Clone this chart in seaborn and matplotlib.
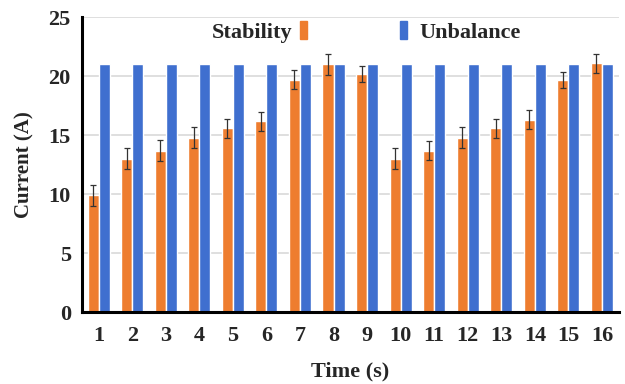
import numpy as np
import pandas as pd
import matplotlib
matplotlib.use('Agg')
import matplotlib.pyplot as plt
from matplotlib.patches import Patch
from matplotlib.ticker import MultipleLocator, FixedLocator
import seaborn as sns

# data
times = [str(i) for i in range(1, 17)]
stability = [9.9, 13.0, 13.7, 14.8, 15.6, 16.2, 19.7, 21.0, 20.2,
             13.0, 13.7, 14.8, 15.6, 16.3, 19.7, 21.1]
stability_err = [0.9, 0.9, 0.9, 0.9, 0.8, 0.8, 0.8, 0.9, 0.7,
                 0.9, 0.8, 0.9, 0.8, 0.8, 0.7, 0.8]
unbalance = [21.0] * 16

orange = '#EE7D2F'
blue = '#3F6FCF'

sns.set_style('white')
plt.rcParams['font.family'] = ['Liberation Serif', 'DejaVu Serif']
plt.rcParams['font.weight'] = 'bold'

df = pd.DataFrame({
    'Time': times * 2,
    'Current': stability + unbalance,
    'Series': ['Stability'] * 16 + ['Unbalance'] * 16,
})

fig, ax = plt.subplots(figsize=(6.25, 3.84), dpi=100)
fig.subplots_adjust(left=0.131, right=0.99, bottom=0.187, top=0.955)

sns.barplot(data=df, x='Time', y='Current', hue='Series',
            palette=[orange, blue], width=0.66, gap=0,
            errorbar=None, legend=False, ax=ax, saturation=1)

# error bars on the stability bars
bars = ax.patches[:16]
xs = [b.get_x() + b.get_width() / 2 for b in bars]
ax.errorbar(xs, stability, yerr=stability_err, fmt='none',
            ecolor='#333333', elinewidth=0.9, capsize=2.5, capthick=0.9)

ax.set_ylim(0, 25)
ax.set_xlim(-0.5, 15.5)
ax.yaxis.set_major_locator(MultipleLocator(5))
ax.yaxis.set_minor_locator(MultipleLocator(0.5))
ax.xaxis.set_minor_locator(FixedLocator(np.arange(0.5, 15.5, 1.0)))
ax.grid(axis='y', color='#d9d9d9', linewidth=1.2)
ax.set_axisbelow(True)

for s in ['top', 'right']:
    ax.spines[s].set_visible(False)
for s in ['left', 'bottom']:
    ax.spines[s].set_color('black')
    ax.spines[s].set_linewidth(2.2)

ax.tick_params(axis='y', which='major', length=4, width=2, direction='inout',
               labelsize=16, pad=6)
ax.tick_params(axis='y', which='minor', length=3, width=1.6, direction='inout')
ax.tick_params(axis='x', which='major', length=0, labelsize=16, pad=10)
ax.tick_params(axis='x', which='minor', length=4, width=2, direction='in')
for lab in ax.get_xticklabels() + ax.get_yticklabels():
    lab.set_fontweight('bold')

ax.set_xlabel('Time (s)', fontsize=16, fontweight='bold', labelpad=11)
ax.set_ylabel('Current (A)', fontsize=15, fontweight='bold', labelpad=10)

# legend: Stability with marker after text, Unbalance with marker first
leg1 = ax.legend(handles=[Patch(color=orange, label='Stability')],
                 loc='upper left', bbox_to_anchor=(0.205, 1.055), frameon=False,
                 markerfirst=False, handlelength=0.3, handleheight=0.85,
                 handletextpad=0.35, prop={'size': 16, 'weight': 'bold'})
ax.add_artist(leg1)
ax.legend(handles=[Patch(color=blue, label='Unbalance')],
          loc='upper left', bbox_to_anchor=(0.555, 1.055), frameon=False,
          handlelength=0.3, handleheight=0.85, handletextpad=0.6,
          prop={'size': 16, 'weight': 'bold'})

fig.savefig('out.png', dpi=100)
